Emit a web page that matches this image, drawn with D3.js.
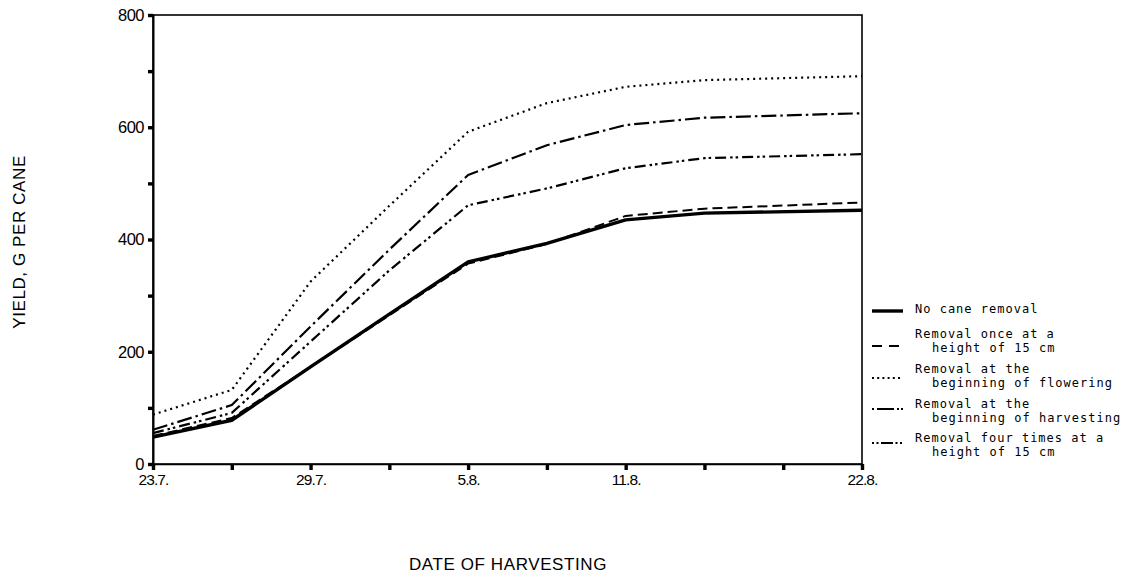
<!DOCTYPE html>
<html>
<head>
<meta charset="utf-8">
<script src="https://cdn.jsdelivr.net/npm/d3@7/dist/d3.min.js"></script>
<style>
  html, body { margin: 0; padding: 0; background: #fff; }
  svg { display: block; }
</style>
</head>
<body>
<svg id="chart" width="1145" height="580"></svg>
<script>
// ---- data ----
const dateIndex = [0, 1, 2, 3, 4, 5, 6, 7, 9];
const tickIndex = [0, 1, 2, 3, 4, 5, 6, 7, 8, 9];
const tickLabels = ["23.7.", "", "29.7.", "", "5.8.", "", "11.8.", "", "", "22.8."];
const yTicks = [0, 100, 200, 300, 400, 500, 600, 700, 800];
const yTickLabels = ["0", "", "200", "", "400", "", "600", "", "800"];

const noRemoval   = [48, 78, 173, 267, 360, 393, 435, 447, 452];
const onceAt15    = [50, 82, 173, 265, 357, 392, 442, 455, 466];
const flowering   = [88, 132, 325, 460, 592, 643, 672, 684, 691];
const harvesting  = [61, 105, 245, 382, 515, 568, 604, 617, 625];
const fourTimes   = [55, 91, 218, 345, 461, 491, 527, 545, 552];

const seriesNames = [
  ["No cane removal"],
  ["Removal once at a", "height of 15 cm"],
  ["Removal at the", "beginning of flowering"],
  ["Removal at the", "beginning of harvesting"],
  ["Removal four times at a", "height of 15 cm"]
];

// ---- styles ----
const styles = [
  { w: 3.4, dash: null },
  { w: 2, dash: "10,5" },
  { w: 2.2, dash: "2,4" },
  { w: 2.2, dash: "15,4,2.5,4" },
  { w: 2.2, dash: "11,4,2.5,3,2.5,4" }
];
const legendDash = [null, "10,7", "2,3.2", "2,3,17,3,2", "2,2.5,2,2.5,12,2.5,2,2.5,2"];
const seriesValues = [noRemoval, onceAt15, flowering, harvesting, fourTimes];

const svg = d3.select("#chart");
const x = d3.scaleLinear().domain([0, 9]).range([153, 862]);
const y = d3.scaleLinear().domain([0, 800]).range([464, 15]);

// frame
svg.append("rect")
  .attr("x", x(0)).attr("y", y(800))
  .attr("width", x(9) - x(0)).attr("height", y(0) - y(800))
  .attr("fill", "none").attr("stroke", "#000").attr("stroke-width", 1.6);

// y axis
const yAxis = d3.axisLeft(y).tickValues(yTicks)
  .tickFormat((d, i) => yTickLabels[i]).tickSize(5).tickPadding(4);
const gy = svg.append("g").attr("transform", `translate(${x(0)},0)`).call(yAxis);
gy.select(".domain").attr("stroke-width", 2);
gy.selectAll(".tick line").attr("stroke-width", 3.4);
gy.selectAll(".tick text")
  .style("font-family", "'Liberation Sans', Arial, sans-serif")
  .style("font-size", "16.5px").style("letter-spacing", "-0.5px").attr("fill", "#000");

// x axis
const xAxis = d3.axisBottom(x).tickValues(tickIndex)
  .tickFormat((d, i) => tickLabels[i]).tickSize(6).tickPadding(4);
const gx = svg.append("g").attr("transform", `translate(0,${y(0)})`).call(xAxis);
gx.select(".domain").attr("stroke-width", 1.6);
gx.selectAll(".tick line").attr("stroke-width", 3.4);
gx.selectAll(".tick text")
  .style("font-family", "'Liberation Sans', Arial, sans-serif")
  .style("font-size", "15.5px").style("letter-spacing", "-0.9px").attr("fill", "#000");

// lines
const line = d3.line().x((d, i) => x(dateIndex[i])).y(d => y(d));
seriesValues.forEach((vals, k) => {
  svg.append("path").datum(vals)
    .attr("d", line)
    .attr("fill", "none").attr("stroke", "#000")
    .attr("stroke-width", styles[k].w)
    .attr("stroke-linejoin", "round")
    .attr("stroke-dasharray", styles[k].dash);
});

// axis titles
svg.append("text")
  .attr("x", 508).attr("y", 570).attr("text-anchor", "middle")
  .style("font-family", "'Liberation Sans', Arial, sans-serif")
  .style("font-size", "17px").style("letter-spacing", "0.6px")
  .text("DATE OF HARVESTING");
svg.append("text")
  .attr("transform", "translate(25,242) rotate(-90)")
  .attr("text-anchor", "middle")
  .style("font-family", "'Liberation Sans', Arial, sans-serif")
  .style("font-size", "17px").style("letter-spacing", "0.6px")
  .text("YIELD, G PER CANE");

// legend
const legendSampleY = [311, 346, 378, 409, 443];
const legendBase = [313, 338, 373, 408, 442];
const lg = svg.append("g");
seriesNames.forEach((names, k) => {
  lg.append("line")
    .attr("x1", 872).attr("x2", 903)
    .attr("y1", legendSampleY[k]).attr("y2", legendSampleY[k])
    .attr("stroke", "#000").attr("stroke-width", styles[k].w)
    .attr("stroke-dasharray", legendDash[k]);
  const t = lg.append("text")
    .style("font-family", "'DejaVu Sans Mono', monospace")
    .style("font-size", "12px")
    .style("letter-spacing", "1px");
  names.forEach((s, j) => {
    t.append("tspan")
      .attr("x", j === 0 ? 915 : 932)
      .attr("y", legendBase[k] + j * 14)
      .text(s);
  });
});
</script>
</body>
</html>
